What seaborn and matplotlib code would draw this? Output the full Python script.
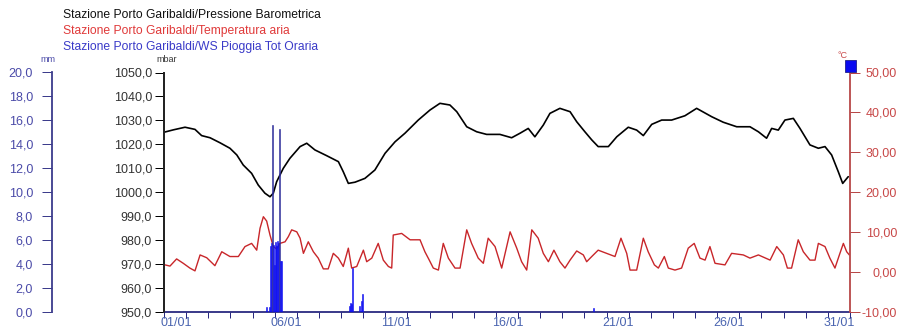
import matplotlib
matplotlib.use("Agg")
import matplotlib.pyplot as plt
import matplotlib.dates as mdates
from matplotlib.ticker import FixedLocator, FuncFormatter
from matplotlib.transforms import ScaledTranslation
from matplotlib.patches import Rectangle
import pandas as pd
import seaborn as sns

sns.set_theme(style="ticks")
plt.rcParams["font.family"] = ["Liberation Sans", "DejaVu Sans"]

START = pd.Timestamp("2012-01-01")

# Barometric pressure (mbar), time in days since 01/01 00:00
pres_day = [0.00, 0.42, 0.95, 1.40, 1.70, 2.08, 2.53, 2.98, 3.29, 3.58,
            3.96, 4.26, 4.56, 4.79, 4.94, 5.09, 5.39, 5.69, 6.15, 6.45,
            6.82, 7.35, 7.88, 8.10, 8.33, 8.63, 9.08, 9.53, 9.99, 10.44,
            10.89, 11.49, 12.02, 12.47, 12.92, 13.23, 13.68, 14.13, 14.58, 15.18,
            15.71, 16.09, 16.46, 16.76, 17.14, 17.44, 17.89, 18.35, 18.65, 19.02,
            19.33, 19.62, 20.08, 20.46, 20.98, 21.36, 21.66, 22.04, 22.49, 22.94,
            23.54, 24.07, 24.75, 25.27, 25.88, 26.48, 26.86, 27.23, 27.46, 27.76,
            28.06, 28.44, 28.74, 29.19, 29.57, 29.87, 30.17, 30.47, 30.67, 30.92]
pres_mbar = [1025.0, 1026.0, 1027.1, 1026.2, 1023.6, 1022.7, 1020.6, 1018.3, 1015.5, 1011.3,
             1007.8, 1002.9, 999.5, 998.0, 999.5, 1004.3, 1009.9, 1014.1, 1019.0, 1020.4,
             1017.6, 1015.2, 1012.7, 1008.5, 1003.6, 1004.1, 1005.7, 1009.2, 1016.2, 1021.0,
             1024.6, 1030.1, 1034.3, 1037.1, 1036.4, 1033.6, 1027.3, 1025.2, 1024.1, 1024.1,
             1022.7, 1024.6, 1026.6, 1023.1, 1028.0, 1032.9, 1035.0, 1033.6, 1029.4, 1025.2,
             1021.8, 1019.0, 1019.0, 1023.1, 1027.1, 1025.9, 1023.6, 1028.3, 1030.1, 1030.1,
             1031.9, 1035.0, 1031.5, 1029.2, 1027.3, 1027.3, 1025.2, 1022.5, 1026.6, 1025.9,
             1030.1, 1030.8, 1026.6, 1019.7, 1018.3, 1019.0, 1015.5, 1008.5, 1003.6, 1006.4]

# Air temperature (°C)
temp_day = [0.05, 0.27, 0.57, 0.87, 1.17, 1.40, 1.63, 1.93, 2.30, 2.61,
            2.98, 3.36, 3.66, 3.96, 4.19, 4.34, 4.49, 4.64, 4.79, 4.94,
            5.09, 5.24, 5.47, 5.62, 5.77, 6.00, 6.15, 6.30, 6.52, 6.75,
            6.97, 7.20, 7.42, 7.65, 7.88, 8.10, 8.33, 8.48, 8.71, 9.01,
            9.16, 9.39, 9.68, 9.91, 10.14, 10.29, 10.36, 10.74, 11.12, 11.57,
            11.79, 11.96, 12.17, 12.40, 12.62, 12.85, 13.15, 13.38, 13.68, 13.90,
            14.20, 14.43, 14.65, 14.96, 15.26, 15.64, 15.94, 16.16, 16.39, 16.62,
            16.91, 17.14, 17.37, 17.62, 17.89, 18.12, 18.35, 18.65, 18.95, 19.10,
            19.33, 19.62, 20.00, 20.38, 20.65, 20.91, 21.06, 21.36, 21.66, 21.88,
            22.16, 22.34, 22.61, 22.79, 23.09, 23.39, 23.69, 23.96, 24.22, 24.45,
            24.67, 24.90, 25.35, 25.65, 26.18, 26.48, 26.86, 27.39, 27.69, 27.99,
            28.17, 28.36, 28.66, 28.89, 29.19, 29.42, 29.57, 29.87, 30.09, 30.32,
            30.52, 30.70, 30.85, 30.97]
temp_c = [1.7, 1.4, 3.2, 2.1, 0.9, 0.2, 4.2, 3.5, 1.5, 5.0,
          3.8, 3.8, 6.3, 7.1, 5.4, 10.9, 13.8, 12.7, 9.2, 6.3,
          5.7, 7.1, 7.5, 8.8, 10.5, 10.0, 8.4, 4.6, 7.5, 5.0,
          3.4, 0.7, 0.7, 4.6, 3.4, 1.3, 5.9, 0.9, 1.3, 5.4,
          2.5, 3.4, 7.1, 2.9, 1.3, 0.9, 9.2, 9.6, 8.0, 8.0,
          5.0, 3.2, 0.9, 0.4, 7.1, 3.4, 0.9, 0.9, 10.5, 7.1,
          3.4, 2.1, 8.4, 6.3, 0.9, 10.0, 5.9, 2.5, 0.4, 10.5,
          8.4, 4.6, 2.5, 5.4, 2.5, 0.9, 2.9, 5.2, 4.2, 2.5,
          3.8, 5.4, 4.6, 3.8, 8.4, 4.6, 0.4, 0.4, 8.4, 5.0,
          1.7, 0.9, 3.8, 0.9, 0.4, 0.9, 5.9, 7.1, 3.4, 2.9,
          6.3, 2.1, 1.7, 4.6, 4.2, 3.4, 4.2, 2.9, 6.3, 4.2,
          0.9, 0.9, 8.0, 5.0, 2.9, 2.9, 7.1, 6.3, 3.4, 0.9,
          4.2, 7.1, 5.0, 4.2]

# Hourly rainfall (mm), hour index since 01/01 00:00
rain_hour = [111, 114, 115, 116, 117, 118, 119, 120, 121, 122, 123, 124, 125, 126, 127,
             201, 202, 203, 204, 212, 214, 215, 465]
rain_mm = [0.35, 0.35, 5.5, 5.7, 15.6, 5.6, 3.9, 5.8, 5.6, 5.5, 5.9, 5.7, 15.3, 4.2, 4.2,
           0.5, 0.7, 0.6, 3.6, 0.5, 0.9, 1.5, 0.3]

# labelled days on the time axis
label_days = [1, 6, 11, 16, 21, 26, 31]

series_names = ["Stazione Porto Garibaldi/Pressione Barometrica",
                "Stazione Porto Garibaldi/Temperatura aria",
                "Stazione Porto Garibaldi/WS Pioggia Tot Oraria"]
series_colors = ["#111111", "#e03a3a", "#3a3ac8"]

pres = pd.DataFrame({"time": START + pd.to_timedelta(pres_day, unit="D"), "mbar": pres_mbar})
temp = pd.DataFrame({"time": START + pd.to_timedelta(temp_day, unit="D"), "degC": temp_c})
rain = pd.DataFrame({"time": START + pd.to_timedelta(rain_hour, unit="h"), "mm": rain_mm})

W, H = 901, 329
fig = plt.figure(figsize=(W / 100, H / 100), dpi=100)
fig.patch.set_facecolor("white")

ax_p = fig.add_axes([164 / W, 17.5 / H, 686 / W, 239 / H])
ax_t = ax_p.twinx()
ax_r = ax_p.twinx()

TICK_FS = 9
px = 0.72  # points per pixel at 100 dpi

# pressure line
sns.lineplot(data=pres, x="time", y="mbar", ax=ax_p, color="#000000", linewidth=1.2)
# temperature line
sns.lineplot(data=temp, x="time", y="degC", ax=ax_t, color="#c8262a", linewidth=1.0)
# rainfall bars
bar_colors = ["#2e2e9a" if v > 10 else "#1010f0" for v in rain["mm"]]
ax_r.bar(rain["time"], rain["mm"], width=1 / 24, align="edge", color=bar_colors,
         edgecolor=bar_colors, linewidth=0.4)

x0 = START
x1 = START + pd.Timedelta(days=31)
ax_p.set_xlim(x0, x1)

# ---- pressure axis (inner left)
ax_p.set_ylim(950, 1050)
ax_p.yaxis.set_major_locator(FixedLocator(range(950, 1051, 10)))
ax_p.yaxis.set_major_formatter(FuncFormatter(lambda v, _: f"{v:.1f}".replace(".", ",")))
ax_p.tick_params(axis="y", direction="out", length=9 * px, width=1 * px, pad=3 * px,
                 labelsize=TICK_FS, labelcolor="#333333", color="#000000")
ax_p.spines["left"].set_color("#000000")
ax_p.spines["left"].set_linewidth(1.3)

# ---- temperature axis (right), labels right-aligned near the figure edge
ax_t.set_ylim(-10, 50)
ax_t.yaxis.set_major_locator(FixedLocator(range(-10, 51, 10)))
ax_t.yaxis.set_major_formatter(FuncFormatter(lambda v, _: f"{v:.2f}".replace(".", ",")))
ax_t.tick_params(axis="y", direction="out", length=10 * px, width=1 * px, pad=37 * px,
                 labelsize=TICK_FS, labelcolor="#c84848", color="#b84848")
for lbl in ax_t.get_yticklabels():
    lbl.set_horizontalalignment("right")
ax_t.spines["right"].set_color("#b84848")
ax_t.spines["right"].set_linewidth(1.3)

# ---- rainfall axis (outer left)
ax_r.set_ylim(0, 20)
ax_r.spines["left"].set_position(("axes", -112 / 686))
ax_r.spines["left"].set_visible(True)
ax_r.spines["left"].set_color("#3c3c8c")
ax_r.spines["left"].set_linewidth(1.3)
ax_r.spines["right"].set_visible(False)
ax_r.yaxis.set_ticks_position("left")
ax_r.yaxis.set_label_position("left")
ax_r.yaxis.set_major_locator(FixedLocator(range(0, 21, 2)))
ax_r.yaxis.set_major_formatter(FuncFormatter(lambda v, _: f"{v:.1f}".replace(".", ",")))
ax_r.tick_params(axis="y", direction="out", length=10 * px, width=1 * px, pad=9 * px,
                 labelsize=TICK_FS, labelcolor="#4a4aa8", color="#3c3c8c")

for a in (ax_p, ax_t, ax_r):
    a.set_xlabel("")
    a.set_ylabel("")
    a.spines["top"].set_visible(False)
for a in (ax_t, ax_r):
    a.spines["bottom"].set_visible(False)
    a.tick_params(axis="x", which="both", bottom=False, labelbottom=False)
ax_p.spines["right"].set_visible(False)

# ---- time axis
ax_p.spines["bottom"].set_color("#2a2a80")
ax_p.spines["bottom"].set_linewidth(1.3)
major_dates = [mdates.date2num(START + pd.Timedelta(days=d - 1)) for d in label_days]
ax_p.xaxis.set_major_locator(FixedLocator(major_dates))
ax_p.xaxis.set_major_formatter(mdates.DateFormatter("%d/%m"))
ax_p.xaxis.set_minor_locator(mdates.DayLocator())
ax_p.tick_params(axis="x", which="both", direction="out", length=6 * px, width=1 * px,
                 color="#2a2a80", pad=0)
ax_p.tick_params(axis="x", which="major", labelsize=TICK_FS, labelcolor="#4a64b0")
shift = ScaledTranslation(-4 / 100, 0, fig.dpi_scale_trans)
for lbl in ax_p.get_xticklabels():
    lbl.set_horizontalalignment("left")
    lbl.set_transform(lbl.get_transform() + shift)

# ---- unit labels
fig.text(48 / W, 1 - 59 / H, "mm", fontsize=6.5, color="#4a4aa8", ha="center", va="center")
fig.text(167 / W, 1 - 59 / H, "mbar", fontsize=6.5, color="#333333", ha="center", va="center")
fig.text(843 / W, 1 - 55 / H, "°C", fontsize=6.5, color="#c84848", ha="center", va="center")

# ---- series titles
for i, (name, col) in enumerate(zip(series_names, series_colors)):
    fig.text(63 / W, 1 - (15 + 16 * i) / H, name, fontsize=8.7, color=col,
             ha="left", va="center")

# rainfall marker in the top-right corner
fig.patches.append(Rectangle((845 / W, 1 - 72 / H), 11 / W, 12 / H, transform=fig.transFigure,
                             facecolor="#0a0af0", edgecolor="#20208a", linewidth=0.6))

fig.savefig("out.png", dpi=100, facecolor="white")
